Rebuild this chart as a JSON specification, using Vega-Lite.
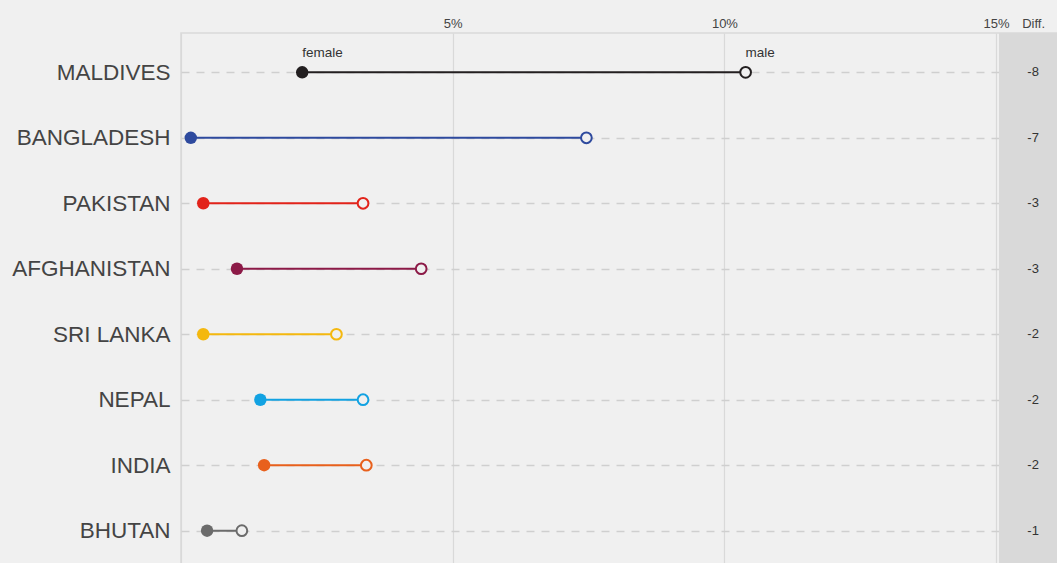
{
  "$schema": "https://vega.github.io/schema/vega-lite/v6.json",
  "width": 876,
  "height": 537,
  "autosize": {"type": "none"},
  "padding": {"left": 181, "top": 33, "right": 0, "bottom": 0},
  "background": "#f0f0f0",
  "config": {
    "view": {"stroke": "#d9d9d9", "strokeWidth": 1.5},
    "font": "Liberation Sans"
  },
  "data": {
    "values": [
      {"country": "MALDIVES", "female": 2.23, "male": 10.39, "diff": -8},
      {"country": "BANGLADESH", "female": 0.18, "male": 7.46, "diff": -7},
      {"country": "PAKISTAN", "female": 0.41, "male": 3.35, "diff": -3},
      {"country": "AFGHANISTAN", "female": 1.03, "male": 4.42, "diff": -3},
      {"country": "SRI LANKA", "female": 0.41, "male": 2.86, "diff": -2},
      {"country": "NEPAL", "female": 1.46, "male": 3.35, "diff": -2},
      {"country": "INDIA", "female": 1.53, "male": 3.41, "diff": -2},
      {"country": "BHUTAN", "female": 0.48, "male": 1.12, "diff": -1}
    ]
  },
  "encoding": {
    "y": {
      "field": "country",
      "type": "nominal",
      "sort": null,
      "scale": {"type": "point", "padding": 0.6},
      "axis": {
        "title": null,
        "domain": false,
        "ticks": false,
        "grid": true,
        "gridColor": "#cfcfcf",
        "gridDash": [8, 7],
        "gridWidth": 1.5,
        "labelFontSize": 22.5,
        "labelColor": "#444444",
        "labelPadding": 11
      }
    }
  },
  "layer": [
    {
      "mark": {"type": "rect", "color": "#d9d9d9"},
      "encoding": {
        "x": {
          "datum": 15.06,
          "type": "quantitative",
          "scale": {"domain": [0, 16.12], "nice": false, "zero": true},
          "axis": {
            "orient": "top",
            "title": null,
            "values": [0, 5, 10, 15, 15.68],
            "labelExpr": "datum.value == 0 ? '' : (datum.value > 15.5 ? 'Diff.' : datum.value + '%')",
            "domain": false,
            "ticks": false,
            "grid": true,
            "gridColor": "#d9d9d9",
            "gridWidth": 1.2,
            "labelFontSize": 13,
            "labelColor": "#444444",
            "labelPadding": 3
          }
        },
        "x2": {"datum": 16.2},
        "y": null
      }
    },
    {
      "mark": {"type": "rule", "strokeWidth": 2},
      "encoding": {
        "x": {"field": "female", "type": "quantitative"},
        "x2": {"field": "male"},
        "color": {
          "field": "country",
          "type": "nominal",
          "legend": null,
          "scale": {
            "domain": ["MALDIVES", "BANGLADESH", "PAKISTAN", "AFGHANISTAN", "SRI LANKA", "NEPAL", "INDIA", "BHUTAN"],
            "range": ["#231f20", "#2e4a9e", "#e2231a", "#8c1a47", "#f4b80f", "#12a2e2", "#e8601c", "#6b6b6b"]
          }
        }
      }
    },
    {
      "mark": {"type": "point", "filled": true, "size": 155, "opacity": 1},
      "encoding": {
        "x": {"field": "female", "type": "quantitative"},
        "color": {"field": "country", "type": "nominal", "legend": null}
      }
    },
    {
      "mark": {"type": "point", "filled": false, "fill": "#f0f0f0", "fillOpacity": 1, "size": 115, "strokeWidth": 2, "opacity": 1},
      "encoding": {
        "x": {"field": "male", "type": "quantitative"},
        "color": {"field": "country", "type": "nominal", "legend": null}
      }
    },
    {
      "mark": {"type": "text", "fontSize": 13, "color": "#333333"},
      "encoding": {
        "x": {"datum": 15.68, "type": "quantitative"},
        "text": {"field": "diff", "type": "nominal"}
      }
    },
    {
      "transform": [{"filter": "datum.country == 'MALDIVES'"}],
      "mark": {"type": "text", "fontSize": 13.5, "color": "#333333", "align": "left", "dy": -19},
      "encoding": {
        "x": {"field": "female", "type": "quantitative"},
        "text": {"value": "female"}
      }
    },
    {
      "transform": [{"filter": "datum.country == 'MALDIVES'"}],
      "mark": {"type": "text", "fontSize": 13.5, "color": "#333333", "align": "left", "dy": -19},
      "encoding": {
        "x": {"field": "male", "type": "quantitative"},
        "text": {"value": "male"}
      }
    }
  ]
}
